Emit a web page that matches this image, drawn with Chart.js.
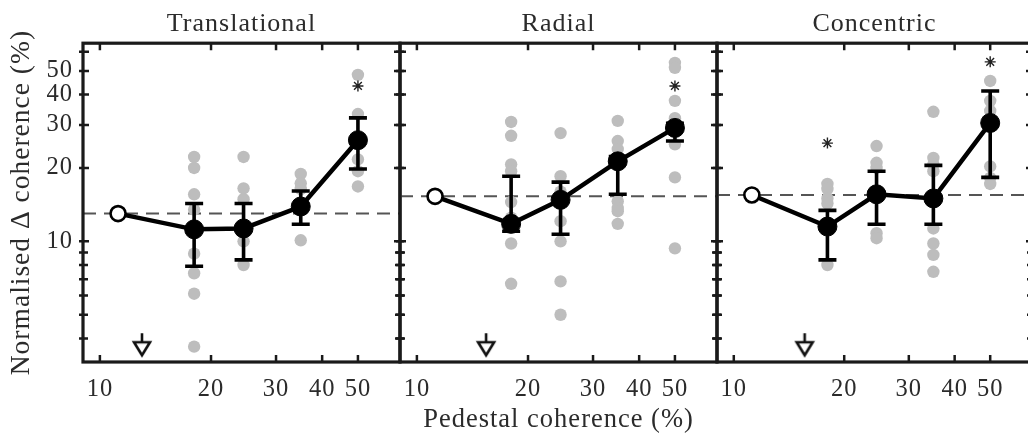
<!DOCTYPE html>
<html>
<head>
<meta charset="utf-8">
<script src="https://cdn.jsdelivr.net/npm/chart.js@4.4.1/dist/chart.umd.min.js"></script>
<style>
  body { margin: 0; background: #fff; width: 1028px; height: 438px; overflow: hidden; position: relative; }
  canvas { position: absolute; top: 0; }
</style>
</head>
<body>
<canvas id="c1" width="405" height="438" style="left:0px"></canvas>
<canvas id="c2" width="342" height="438" style="left:380px"></canvas>
<canvas id="c3" width="340" height="438" style="left:697px"></canvas>
<script>
// axis / tick values
const tickValues = [10, 20, 30, 40, 50];
const majorY = [10, 20, 30, 40, 50, 60];
const minorY = [4, 5, 6, 7, 8, 9];
const xMin = 9, xMax = 65, yMin = 3.2, yMax = 65;

// pedestal levels (x) and the open baseline point
const pedestal = [18, 24.5, 35, 50];
const baseX = 11.2;

// Translational
const transBase = 13.0;
const transMean = [11.2, 11.3, 13.9, 26.0];
const transLow = [7.9, 8.4, 11.75, 19.8];
const transHigh = [14.3, 14.3, 16.1, 32.1];
const transDots = [[22.2, 20, 15.6, 13.5, 8.9, 7.4, 6.1, 3.7], [22.2, 16.5, 14.9, 10, 8.0], [18.9, 17.3, 16.4, 10.1], [48.2, 33.3, 21.7, 19.4, 16.8]];
const transStars = [[50, 43.4]];
const transArrow = 13.0;

// Radial
const radBase = 15.3;
const radMean = [11.8, 14.8, 21.3, 29.2];
const radLow = [11.0, 10.7, 15.6, 25.8];
const radHigh = [18.5, 17.5, 22.3, 30.5];
const radDots = [[30.9, 27.1, 20.7, 19.4, 14.5, 12.5, 9.8, 6.7], [27.8, 18.5, 16.0, 12.1, 10, 6.85, 5.0], [31.2, 25.8, 23.9, 14.6, 13.7, 13.3, 11.8], [54, 51.5, 37.7, 32, 25, 18.3, 9.36]];
const radStars = [[50, 43.4]];
const radArrow = 15.4;

// Concentric
const concBase = 15.5;
const concMean = [11.5, 15.6, 15.0, 30.6];
const concLow = [8.4, 11.75, 11.75, 18.3];
const concHigh = [13.4, 19.4, 20.5, 41.4];
const concDots = [[17.2, 16.4, 15.0, 14.3, 8.0], [24.6, 21, 20, 10.8, 10.3], [34, 22, 20.7, 19.4, 11.3, 9.8, 8.8, 7.5], [45.5, 37.7, 34.3, 20.3, 18.2, 17.2]];
const concStars = [[18, 25.3], [50, 54.5]];
const concArrow = 15.6;

const arrowY = 3.75;
const serif = "'Liberation Serif', 'DejaVu Serif', serif";
const textColor = '#2b2b2b';

// down arrow marker
const arrowImg = document.createElement('canvas');
arrowImg.width = 22; arrowImg.height = 26;
(function () {
  const c = arrowImg.getContext('2d');
  c.strokeStyle = '#111'; c.lineWidth = 2.6; c.fillStyle = '#fff';
  c.beginPath(); c.moveTo(11, 1); c.lineTo(11, 10); c.stroke();
  c.beginPath(); c.moveTo(3, 10); c.lineTo(19, 10); c.lineTo(11, 23); c.closePath();
  c.fill(); c.stroke();
})();

// the figure's text is a little wider than plain Times
const spacingPlugin = {
  id: 'spacing',
  beforeUpdate(chart) { chart.ctx.letterSpacing = '1px'; },
  beforeDraw(chart) { chart.ctx.letterSpacing = '1px'; }
};

// box with inward ticks
const framePlugin = {
  id: 'frame',
  afterDraw(chart) {
    const { ctx, chartArea: a } = chart;
    const x = chart.scales.x, y = chart.scales.y;
    ctx.save();
    ctx.strokeStyle = '#1a1a1a';
    ctx.lineWidth = 2.5;
    ctx.beginPath();
    tickValues.forEach(v => {
      const px = x.getPixelForValue(v);
      ctx.moveTo(px, a.bottom + 1); ctx.lineTo(px, a.bottom - 7);
      ctx.moveTo(px, a.top - 1); ctx.lineTo(px, a.top + 7);
    });
    majorY.forEach(v => {
      const py = y.getPixelForValue(v);
      ctx.moveTo(a.left - 4, py); ctx.lineTo(a.left + 6, py);
      ctx.moveTo(a.right + 4, py); ctx.lineTo(a.right - 6, py);
    });
    minorY.forEach(v => {
      const py = y.getPixelForValue(v);
      ctx.moveTo(a.left - 4, py); ctx.lineTo(a.left + 5, py);
      ctx.moveTo(a.right + 4, py); ctx.lineTo(a.right - 5, py);
    });
    ctx.stroke();
    ctx.lineWidth = 3.2;
    ctx.strokeRect(a.left, a.top, a.right - a.left, a.bottom - a.top);
    ctx.restore();
  }
};

// error bars, drawn just before the mean line
const errorBarPlugin = {
  id: 'errorBars',
  beforeDatasetDraw(chart, args) {
    const ds = chart.data.datasets[args.index];
    if (!ds.errLow) return;
    const { ctx } = chart;
    const x = chart.scales.x, y = chart.scales.y;
    ctx.save();
    ctx.strokeStyle = '#000';
    ctx.lineWidth = 3.6;
    ctx.beginPath();
    pedestal.forEach((p, i) => {
      const px = x.getPixelForValue(p);
      const lo = y.getPixelForValue(ds.errLow[i]);
      const hi = y.getPixelForValue(ds.errHigh[i]);
      ctx.moveTo(px, lo); ctx.lineTo(px, hi);
      ctx.moveTo(px - 9, lo); ctx.lineTo(px + 9, lo);
      ctx.moveTo(px - 9, hi); ctx.lineTo(px + 9, hi);
    });
    ctx.stroke();
    ctx.restore();
  }
};

function makePanel(id, idx, title, base, mean, low, high, dots, stars, arrowX) {
  const dotData = [];
  dots.forEach((list, i) => list.forEach(v => dotData.push({ x: pedestal[i], y: v })));
  const meanData = [{ x: baseX, y: base }].concat(pedestal.map((p, i) => ({ x: p, y: mean[i] })));
  const first = idx === 0;

  new Chart(document.getElementById(id), {
    type: 'scatter',
    data: {
      datasets: [
        {
          type: 'line', data: meanData, order: 0,
          borderColor: '#000', borderWidth: 4.5, showLine: true,
          pointRadius: meanData.map((d, i) => i === 0 ? 7.5 : 9.5),
          pointBackgroundColor: meanData.map((d, i) => i === 0 ? '#fff' : '#000'),
          pointBorderColor: '#000',
          pointBorderWidth: meanData.map((d, i) => i === 0 ? 2.6 : 1),
          errLow: low, errHigh: high
        },
        {
          data: stars.map(s => ({ x: s[0], y: s[1] })), order: 1,
          pointStyle: 'star', pointRadius: 5.5, borderColor: '#222', borderWidth: 1.4
        },
        {
          data: [{ x: arrowX, y: arrowY }], order: 1,
          pointStyle: arrowImg
        },
        {
          data: dotData, order: 3,
          pointRadius: 6.2, backgroundColor: '#bdbdbd', borderWidth: 0
        },
        {
          type: 'line', data: [{ x: xMin, y: base }, { x: xMax, y: base }], order: 4,
          borderColor: '#555', borderWidth: 2, borderDash: [13, 8], pointRadius: 0
        }
      ]
    },
    options: {
      responsive: false,
      animation: false,
      layout: { autoPadding: false, padding: { left: 0, right: 5, top: 0, bottom: 0 } },
      plugins: {
        legend: { display: false },
        tooltip: { enabled: false },
        title: {
          display: true, text: title, fullSize: false, color: textColor,
          font: { family: serif, size: 26, weight: 'normal' },
          padding: { top: 9, bottom: 3 }
        }
      },
      scales: {
        x: {
          type: 'logarithmic', min: xMin, max: xMax,
          grid: { display: false, drawTicks: false },
          border: { display: false },
          afterBuildTicks: s => { s.ticks = tickValues.map(v => ({ value: v })); },
          afterFit: s => { s.height = 76; },
          ticks: {
            color: textColor, font: { family: serif, size: 24.5 },
            padding: 13, maxRotation: 0, autoSkip: false,
            callback: v => String(v)
          },
          title: {
            display: idx === 1, text: 'Pedestal coherence (%)', color: textColor,
            font: { family: serif, size: 26.5 }, padding: { top: 0, bottom: 2 }
          }
        },
        y: {
          type: 'logarithmic', min: yMin, max: yMax, display: first,
          grid: { display: false, drawTicks: false },
          border: { display: false },
          afterBuildTicks: s => { s.ticks = tickValues.map(v => ({ value: v })); },
          afterFit: s => { s.width = first ? 83 : 20; },
          ticks: {
            color: textColor, font: { family: serif, size: 24.5 },
            padding: 10, autoSkip: false,
            callback: v => String(v)
          },
          title: {
            display: first, text: 'Normalised Δ coherence (%)', color: textColor,
            font: { family: serif, size: 27.5 }, padding: { top: 5, bottom: 0 }
          }
        }
      }
    },
    plugins: [spacingPlugin, framePlugin, errorBarPlugin]
  });
}

makePanel('c1', 0, 'Translational', transBase, transMean, transLow, transHigh, transDots, transStars, transArrow);
makePanel('c2', 1, 'Radial', radBase, radMean, radLow, radHigh, radDots, radStars, radArrow);
makePanel('c3', 2, 'Concentric', concBase, concMean, concLow, concHigh, concDots, concStars, concArrow);
</script>
</body>
</html>
